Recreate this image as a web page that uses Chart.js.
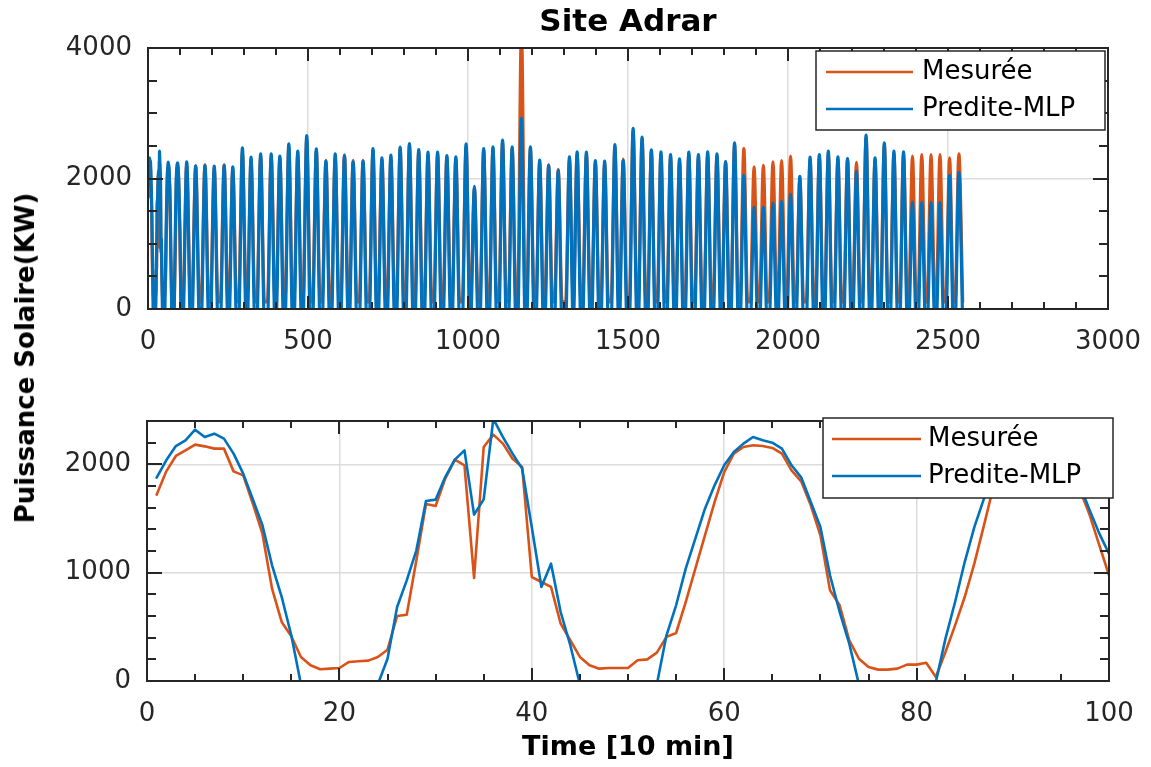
<!DOCTYPE html>
<html>
<head>
<meta charset="utf-8">
<title>Site Adrar</title>
<script src="https://cdn.jsdelivr.net/npm/chart.js@4.4.1/dist/chart.umd.min.js"></script>
<style>
  body { margin: 0; background: #fff; }
  #wrap { position: relative; width: 1151px; height: 767px; overflow: hidden; }
  canvas { position: absolute; left: 0; }
  #top-chart { top: 0; }
  #bottom-chart { top: 380px; }
  #ylabel {
    position: absolute; left: 25px; top: 358px;
    transform: translate(-50%, -50%) rotate(-90deg);
    font: bold 26px 'DejaVu Sans', sans-serif;
    white-space: nowrap; color: #000;
  }
</style>
</head>
<body>
<div id="wrap">
  <canvas id="top-chart" width="1151" height="380"></canvas>
  <canvas id="bottom-chart" width="1151" height="387"></canvas>
  <div id="ylabel">Puissance Solaire(KW)</div>
</div>
<script>
// Zoom : les 100 premiers pas de temps (10 min)
const zoomTime = Array.from({ length: 100 }, (_, i) => i + 1);
const zoomMesuree = [
  1720, 1935, 2077, 2129, 2182, 2166, 2145, 2145, 1935, 1898,
  1637, 1360, 852, 545, 413, 222, 145, 108, 114, 120,
  176, 182, 188, 222, 289, 600, 612, 1114, 1634, 1615,
  1868, 2043, 1991, 951, 2160, 2274, 2191, 2052, 1975, 960,
  914, 868, 530, 376, 222, 145, 114, 120, 120, 120,
  191, 200, 262, 407, 443, 729, 1037, 1345, 1652, 1929,
  2099, 2160, 2176, 2169, 2151, 2099, 1945, 1843, 1622, 1345,
  837, 699, 376, 206, 130, 105, 105, 114, 151, 151,
  169, 37, 268, 514, 775, 1083, 1437, 1800, 2000, 2110,
  2160, 2180, 2180, 2150, 2080, 1950, 1760, 1529, 1252, 975
];
const zoomPredite = [
  1877, 2037, 2169, 2222, 2320, 2252, 2283, 2237, 2099, 1914,
  1677, 1437, 1068, 776, 422, -30, -250, -250, -250, -250,
  -250, -250, -250, -30, 206, 683, 929, 1206, 1662, 1674,
  1883, 2043, 2129, 1536, 1677, 2420, 2252, 2099, 1960, 1420,
  868, 1083, 637, 330, -30, -250, -250, -250, -250, -250,
  -250, -250, -30, 422, 699, 1037, 1314, 1591, 1806, 1991,
  2114, 2191, 2252, 2222, 2200, 2145, 1991, 1880, 1652, 1422,
  976, 637, 345, -30, -250, -250, -250, -250, -250, -250,
  -250, -10, 391, 729, 1098, 1421, 1683, 1950, 2080, 2170,
  2220, 2240, 2230, 2190, 2110, 1980, 1800, 1575, 1360, 1175
];

// Vue complète : pic de chaque journée
const dayPeakTime = [
  4, 36, 63, 92, 121, 149, 178, 207, 238, 265,
  295, 322, 352, 385, 412, 440, 468, 496, 526, 556,
  585, 614, 641, 672, 703, 731, 759, 788, 817, 846,
  875, 905, 934, 962, 994, 1020, 1049, 1078, 1108, 1138,
  1167, 1195, 1224, 1252, 1282, 1317, 1341, 1370, 1398, 1427,
  1459, 1485, 1516, 1544, 1573, 1603, 1633, 1661, 1690, 1720,
  1749, 1778, 1805, 1833, 1862, 1894, 1923, 1953, 1980, 2008,
  2037, 2069, 2098, 2126, 2156, 2186, 2214, 2244, 2272, 2301,
  2331, 2361, 2389, 2418, 2447, 2475, 2505, 2534
];
const dayPeakMesuree = [
  2182, 2274, 2176, 2180, 2220, 2200, 2215, 2170, 2215, 2150,
  2400, 2290, 2350, 2340, 2330, 2480, 2380, 2600, 2420, 2280,
  2340, 2365, 2280, 2280, 2420, 2290, 2330, 2450, 2500, 2410,
  2370, 2380, 2340, 2310, 2480, 1850, 2430, 2450, 2550, 2450,
  4300, 2450, 2260, 2215, 2140, 2300, 2380, 2380, 2250, 2240,
  2480, 2300, 2720, 2600, 2410, 2380, 2340, 2280, 2380, 2340,
  2380, 2350, 2265, 2510, 2462, 2180, 2205, 2257, 2277, 2344,
  2000, 2300, 2340, 2390, 2300, 2310, 2251, 2620, 2290, 2510,
  2390, 2380, 2344, 2369, 2369, 2369, 2318, 2380
];
const dayPeakPredite = [
  2320, 2420, 2252, 2240, 2257, 2190, 2200, 2190, 2200, 2180,
  2472, 2328, 2380, 2380, 2344, 2533, 2420, 2661, 2457, 2267,
  2380, 2354, 2257, 2267, 2462, 2318, 2359, 2482, 2538, 2446,
  2405, 2405, 2354, 2333, 2533, 1882, 2462, 2487, 2590, 2487,
  2923, 2487, 2282, 2200, 2123, 2333, 2410, 2405, 2277, 2267,
  2523, 2277, 2769, 2636, 2441, 2410, 2369, 2303, 2405, 2369,
  2410, 2380, 2257, 2549, 2046, 1564, 1564, 1626, 1651, 1764,
  2036, 2328, 2369, 2420, 2333, 2303, 2113, 2666, 2318, 2549,
  2420, 2410, 1641, 1636, 1636, 1636, 2046, 2097
];
const NIGHT_MESUREE = 110;
const NIGHT_PREDITE = -250;
const HALF_DAY = 12;

// Axes
const topXTicks = [0, 500, 1000, 1500, 2000, 2500, 3000];
const topYTicks = [0, 2000, 4000];
const bottomXTicks = [0, 20, 40, 60, 80, 100];
const bottomYTicks = [0, 1000, 2000];

const ORANGE = '#D95319';
const BLUE = '#0072BD';
const AXIS_COLOR = '#262626';
const FONT = "'DejaVu Sans', sans-serif";

// Séries
const zoomSeries = (values) => zoomTime.map((t, i) => ({ x: t, y: values[i] }));

const daySeries = (peaks, night) => dayPeakTime.flatMap((t, i) => [
  { x: t - HALF_DAY, y: night },
  { x: t, y: peaks[i] },
  { x: t + HALF_DAY, y: night }
]).filter(p => p.x > zoomTime[zoomTime.length - 1]);

const fullMesuree = zoomSeries(zoomMesuree).concat(daySeries(dayPeakMesuree, NIGHT_MESUREE));
const fullPredite = zoomSeries(zoomPredite).concat(daySeries(dayPeakPredite, NIGHT_PREDITE));

// Cadre style MATLAB : ticks vers l'intérieur sur les 4 côtés
const boxPlugin = {
  id: 'matlabBox',
  afterDatasetsDraw(chart, args, o) {
    const { ctx, chartArea: a, scales: { x, y } } = chart;
    const L = Math.round(a.left), R = Math.round(a.right);
    const T = Math.round(a.top), B = Math.round(a.bottom);
    ctx.save();
    ctx.strokeStyle = AXIS_COLOR;
    ctx.lineWidth = 2;
    ctx.beginPath();
    for (let v = x.min; v <= x.max + 1e-9; v += o.xMinor) {
      const px = Math.round(x.getPixelForValue(v));
      const len = o.xMajor.includes(v) ? 13 : 7;
      ctx.moveTo(px, B); ctx.lineTo(px, B - len);
      ctx.moveTo(px, T); ctx.lineTo(px, T + len);
    }
    for (let v = y.min; v <= y.max + 1e-9; v += o.yMinor) {
      const py = Math.round(y.getPixelForValue(v));
      const len = o.yMajor.includes(v) ? 15 : 9;
      ctx.moveTo(L, py); ctx.lineTo(L + len, py);
      ctx.moveTo(R, py); ctx.lineTo(R - len, py);
    }
    ctx.stroke();
    ctx.strokeRect(L, T, R - L, B - T);
    ctx.restore();
  }
};

const legendOrder = ['Mesurée', 'Predite-MLP'];

const legendPlugin = {
  id: 'boxLegend',
  afterDraw(chart, args, o) {
    const { ctx } = chart;
    ctx.save();
    ctx.fillStyle = '#fff';
    ctx.fillRect(o.left, o.top, o.width, o.height);
    ctx.strokeStyle = AXIS_COLOR;
    ctx.lineWidth = 1.5;
    ctx.strokeRect(o.left, o.top, o.width, o.height);
    ctx.font = `26px ${FONT}`;
    ctx.textBaseline = 'middle';
    legendOrder.forEach((label, i) => {
      const ds = chart.data.datasets.find(d => d.label === label);
      const rowY = o.rows[i];
      ctx.strokeStyle = ds.borderColor;
      ctx.lineWidth = 2.5;
      ctx.beginPath();
      ctx.moveTo(o.lineFrom, rowY);
      ctx.lineTo(o.lineTo, rowY);
      ctx.stroke();
      ctx.fillStyle = '#000';
      ctx.fillText(label, o.textX, rowY);
    });
    ctx.restore();
  }
};

const makeChart = (id, cfg) => new Chart(document.getElementById(id), {
  type: 'line',
  data: {
    datasets: [
      { label: 'Predite-MLP', data: cfg.pred, borderColor: BLUE, borderWidth: cfg.lineWidth, order: 0, clip: 0 },
      { label: 'Mesurée', data: cfg.mes, borderColor: ORANGE, borderWidth: cfg.lineWidth, order: 1, clip: 0 }
    ]
  },
  options: {
    responsive: false,
    animation: false,
    events: [],
    elements: {
      point: { radius: 0 },
      line: { tension: 0, cubicInterpolationMode: cfg.curve, borderJoinStyle: 'round', borderCapStyle: 'round' }
    },
    layout: { padding: cfg.padding },
    plugins: {
      legend: { display: false },
      tooltip: { enabled: false },
      title: cfg.title || { display: false },
      matlabBox: { xMinor: cfg.xMinor, yMinor: cfg.yMinor, xMajor: cfg.xTicks, yMajor: cfg.yTicks },
      boxLegend: cfg.legend
    },
    scales: {
      x: {
        type: 'linear',
        min: cfg.xTicks[0],
        max: cfg.xTicks[cfg.xTicks.length - 1],
        afterBuildTicks: (s) => { s.ticks = cfg.xTicks.map(v => ({ value: v })); },
        afterFit: (s) => { s.height = cfg.xHeight; },
        border: { display: false },
        grid: { color: '#dcdcdc', lineWidth: 1.5, drawTicks: true, tickLength: 18, tickColor: 'rgba(0,0,0,0)' },
        ticks: { padding: 0, maxRotation: 0, autoSkip: false, color: AXIS_COLOR, font: { family: FONT, size: 26 }, callback: (v) => String(v) },
        title: cfg.xTitle || { display: false }
      },
      y: {
        min: cfg.yTicks[0],
        max: cfg.yMax,
        afterBuildTicks: (s) => { s.ticks = cfg.yTicks.map(v => ({ value: v })); },
        afterFit: (s) => { s.width = cfg.yWidth; },
        border: { display: false },
        grid: { color: '#dcdcdc', lineWidth: 1.5, drawTicks: true, tickLength: 16, tickColor: 'rgba(0,0,0,0)' },
        ticks: { padding: 0, autoSkip: false, color: AXIS_COLOR, font: { family: FONT, size: 26 }, callback: (v) => String(v) }
      }
    }
  },
  plugins: [boxPlugin, legendPlugin]
});

makeChart('top-chart', {
  mes: fullMesuree,
  pred: fullPredite,
  lineWidth: 3.2,
  curve: 'monotone',
  padding: { top: 0, right: 43, bottom: 0, left: 0 },
  xTicks: topXTicks, yTicks: topYTicks, yMax: 4000,
  xMinor: 100, yMinor: 500,
  xHeight: 71, yWidth: 148,
  title: {
    display: true, text: 'Site Adrar', color: '#000', fullSize: false,
    font: { family: FONT, size: 31, weight: 'bold' },
    padding: { top: 4, bottom: 7 }
  },
  legend: { left: 816, top: 51, width: 289, height: 79, rows: [72, 109], lineFrom: 826, lineTo: 913, textX: 922 }
});

makeChart('bottom-chart', {
  mes: zoomSeries(zoomMesuree),
  pred: zoomSeries(zoomPredite),
  lineWidth: 2.6,
  curve: 'default',
  padding: { top: 41, right: 42, bottom: 0, left: 0 },
  xTicks: bottomXTicks, yTicks: bottomYTicks, yMax: 2400,
  xMinor: 5, yMinor: 200,
  xHeight: 86, yWidth: 147,
  xTitle: {
    display: true, text: 'Time [10 min]', color: '#000',
    font: { family: FONT, size: 27, weight: 'bold' },
    padding: { top: 0, bottom: 3 }
  },
  legend: { left: 823, top: 38, width: 290, height: 80, rows: [59, 96], lineFrom: 832, lineTo: 921, textX: 928 }
});
</script>
</body>
</html>
